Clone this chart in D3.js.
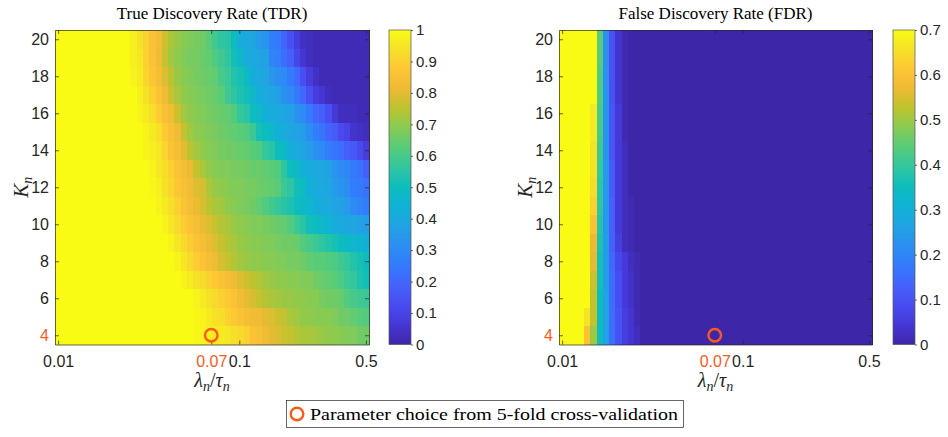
<!DOCTYPE html>
<html>
<head>
<meta charset="utf-8">
<script src="https://cdn.jsdelivr.net/npm/d3@7"></script>
<style>
  body { margin: 0; background: #fff; }
  svg { display: block; }
</style>
</head>
<body>
<svg id="chart" width="948" height="437"></svg>
<script>
// lambda_n / tau_n grid (columns) and K_n values (rows, top to bottom)
const lambdas = [0.01, 0.01083, 0.01173, 0.01271, 0.01376, 0.01491, 0.01615, 0.01749, 0.01894, 0.02052,
  0.02222, 0.02407, 0.02607, 0.02824, 0.03059, 0.03313, 0.03589, 0.03887, 0.04210, 0.04560,
  0.04940, 0.05350, 0.05795, 0.06277, 0.06799, 0.07365, 0.07977, 0.08640, 0.09359, 0.1014,
  0.1098, 0.1189, 0.1288, 0.1395, 0.1511, 0.1637, 0.1773, 0.1920, 0.2080, 0.2253,
  0.2441, 0.2644, 0.2863, 0.3102, 0.3360, 0.3639, 0.3942, 0.4270, 0.4625, 0.5];
const kRows = [20, 19, 18, 17, 16, 15, 14, 13, 12, 11, 10, 9, 8, 7, 6, 5, 4];

// true discovery rate, percent (rows follow kRows)
const tdr = [
  [100,100,100,100,100,100,100,100,100,100,100,100,97,94,90,86,83,77,73,71,69,68,67,66,63,59,56,55,50,41,40,39,35,33,26,25,19,14,8,4,3,2,2,2,2,2,2,2,2,2],
  [100,100,100,100,100,100,100,100,100,100,100,100,97,95,90,86,82,76,72,70,68,67,67,65,64,61,59,56,51,47,41,40,39,37,28,27,22,18,11,6,3,2,2,2,2,2,2,2,2,2],
  [100,100,100,100,100,100,100,100,100,100,100,100,98,96,91,87,84,79,75,71,69,68,67,66,65,64,60,58,54,52,48,42,40,38,34,31,30,25,21,13,8,4,2,2,2,2,2,2,2,2],
  [100,100,100,100,100,100,100,100,100,100,100,100,100,97,94,90,86,82,77,73,70,69,68,67,66,65,63,59,56,53,51,47,42,40,38,37,32,30,25,20,13,8,6,3,2,2,2,2,2,2],
  [100,100,100,100,100,100,100,100,100,100,100,100,100,98,96,93,89,85,83,77,72,70,69,68,67,66,65,64,62,57,55,50,48,43,41,40,39,37,32,30,25,20,18,13,7,3,3,3,2,2],
  [100,100,100,100,100,100,100,100,100,100,100,100,100,100,98,96,93,88,85,82,76,72,70,69,68,67,66,65,64,63,62,58,52,50,46,43,41,39,37,36,31,26,24,19,17,12,10,5,4,3],
  [100,100,100,100,100,100,100,100,100,100,100,100,100,100,98,97,95,91,86,84,80,75,72,70,69,68,67,66,66,65,64,63,62,57,55,50,48,42,40,38,36,32,30,26,24,22,18,16,12,8],
  [100,100,100,100,100,100,100,100,100,100,100,100,100,100,100,98,95,93,90,86,84,81,76,73,70,69,68,68,67,67,66,65,65,64,63,62,56,50,48,43,41,40,39,37,33,31,29,25,23,18],
  [100,100,100,100,100,100,100,100,100,100,100,100,100,100,100,99,97,94,91,87,85,83,79,78,73,71,70,69,68,68,67,67,66,65,64,63,58,56,51,49,43,41,40,39,35,33,31,26,25,23],
  [100,100,100,100,100,100,100,100,100,100,100,100,100,100,100,100,98,96,93,90,86,84,81,78,75,73,72,70,69,68,67,66,64,62,59,57,55,53,50,48,46,43,41,40,38,37,35,30,28,26],
  [100,100,100,100,100,100,100,100,100,100,100,100,100,100,100,100,100,98,95,92,89,86,84,81,79,76,74,73,71,70,69,68,68,67,66,65,64,62,58,55,51,49,47,45,42,40,39,38,37,36],
  [100,100,100,100,100,100,100,100,100,100,100,100,100,100,100,100,100,100,98,95,92,89,86,84,81,79,76,74,73,71,70,69,69,68,68,67,66,66,65,62,60,58,56,54,52,50,48,46,45,43],
  [100,100,100,100,100,100,100,100,100,100,100,100,100,100,100,100,100,100,100,98,95,92,89,86,84,82,78,76,74,72,71,70,70,69,69,68,68,67,67,66,64,63,63,62,61,59,57,54,52,50],
  [100,100,100,100,100,100,100,100,100,100,100,100,100,100,100,100,100,100,100,100,98,96,94,92,90,88,86,84,82,79,77,75,74,72,71,70,70,69,69,68,68,66,65,64,63,61,58,57,53,51],
  [100,100,100,100,100,100,100,100,100,100,100,100,100,100,100,100,100,100,100,100,100,100,98,96,94,92,90,88,86,83,80,78,76,74,73,72,71,71,70,70,69,69,67,66,66,65,62,60,59,58],
  [100,100,100,100,100,100,100,100,100,100,100,100,100,100,100,100,100,100,100,100,100,100,99,98,96,94,93,90,88,86,84,83,82,80,79,77,76,73,72,70,70,69,69,69,68,66,66,64,63,62],
  [100,100,100,100,100,100,100,100,100,100,100,100,100,100,100,100,100,100,100,100,100,100,99,98,97,96,96,95,93,92,90,86,85,82,80,79,77,76,74,73,73,72,71,70,70,69,68,68,66,66]
];

// false discovery rate, percent (colour saturates at 70)
const fdr = [
  [70,70,70,70,70,70,44,22,10,4,1,0,0,0,0,0,0,0,0,0,0,0,0,0,0,0,0,0,0,0,0,0,0,0,0,0,0,0,0,0,0,0,0,0,0,0,0,0,0,0],
  [70,70,70,70,70,70,44,22,10,4,1,0,0,0,0,0,0,0,0,0,0,0,0,0,0,0,0,0,0,0,0,0,0,0,0,0,0,0,0,0,0,0,0,0,0,0,0,0,0,0],
  [70,70,70,70,70,70,43,22,10,4,1,0,0,0,0,0,0,0,0,0,0,0,0,0,0,0,0,0,0,0,0,0,0,0,0,0,0,0,0,0,0,0,0,0,0,0,0,0,0,0],
  [70,70,70,70,70,70,43,23,10,4,1,0,0,0,0,0,0,0,0,0,0,0,0,0,0,0,0,0,0,0,0,0,0,0,0,0,0,0,0,0,0,0,0,0,0,0,0,0,0,0],
  [70,70,70,70,70,67,42,23,11,5,1,0,0,0,0,0,0,0,0,0,0,0,0,0,0,0,0,0,0,0,0,0,0,0,0,0,0,0,0,0,0,0,0,0,0,0,0,0,0,0],
  [70,70,70,70,70,67,42,23,11,5,1,0,0,0,0,0,0,0,0,0,0,0,0,0,0,0,0,0,0,0,0,0,0,0,0,0,0,0,0,0,0,0,0,0,0,0,0,0,0,0],
  [70,70,70,70,70,66,41,23,11,5,2,0,0,0,0,0,0,0,0,0,0,0,0,0,0,0,0,0,0,0,0,0,0,0,0,0,0,0,0,0,0,0,0,0,0,0,0,0,0,0],
  [70,70,70,70,70,66,40,24,12,5,2,0,0,0,0,0,0,0,0,0,0,0,0,0,0,0,0,0,0,0,0,0,0,0,0,0,0,0,0,0,0,0,0,0,0,0,0,0,0,0],
  [70,70,70,70,70,65,39,24,12,5,2,0,0,0,0,0,0,0,0,0,0,0,0,0,0,0,0,0,0,0,0,0,0,0,0,0,0,0,0,0,0,0,0,0,0,0,0,0,0,0],
  [70,70,70,70,70,63,39,24,13,5,2,1,0,0,0,0,0,0,0,0,0,0,0,0,0,0,0,0,0,0,0,0,0,0,0,0,0,0,0,0,0,0,0,0,0,0,0,0,0,0],
  [70,70,70,70,70,60,38,24,13,5,2,1,0,0,0,0,0,0,0,0,0,0,0,0,0,0,0,0,0,0,0,0,0,0,0,0,0,0,0,0,0,0,0,0,0,0,0,0,0,0],
  [70,70,70,70,70,57,37,25,13,6,2,1,0,0,0,0,0,0,0,0,0,0,0,0,0,0,0,0,0,0,0,0,0,0,0,0,0,0,0,0,0,0,0,0,0,0,0,0,0,0],
  [70,70,70,70,70,56,36,25,14,8,5,2,1,0,0,0,0,0,0,0,0,0,0,0,0,0,0,0,0,0,0,0,0,0,0,0,0,0,0,0,0,0,0,0,0,0,0,0,0,0],
  [70,70,70,70,70,54,36,25,15,9,5,3,1,0,0,0,0,0,0,0,0,0,0,0,0,0,0,0,0,0,0,0,0,0,0,0,0,0,0,0,0,0,0,0,0,0,0,0,0,0],
  [70,70,70,70,70,53,35,26,15,9,5,3,1,0,0,0,0,0,0,0,0,0,0,0,0,0,0,0,0,0,0,0,0,0,0,0,0,0,0,0,0,0,0,0,0,0,0,0,0,0],
  [70,70,70,70,66,53,35,26,15,10,6,4,1,0,0,0,0,0,0,0,0,0,0,0,0,0,0,0,0,0,0,0,0,0,0,0,0,0,0,0,0,0,0,0,0,0,0,0,0,0],
  [70,70,70,70,60,50,35,26,16,10,6,4,2,0,0,0,0,0,0,0,0,0,0,0,0,0,0,0,0,0,0,0,0,0,0,0,0,0,0,0,0,0,0,0,0,0,0,0,0,0]
];

const xTicks = [0.01, 0.07, 0.1, 0.5];
const yTicks = [4, 6, 8, 10, 12, 14, 16, 18, 20];
const tdrBarTicks = [0, 0.1, 0.2, 0.3, 0.4, 0.5, 0.6, 0.7, 0.8, 0.9, 1];
const fdrBarTicks = [0, 0.1, 0.2, 0.3, 0.4, 0.5, 0.6, 0.7];
const chosen = { lambda: 0.07, k: 4 };

// parula, every 16th entry of the 256 colour map
const parula = ["#3e26a8", "#4537d5", "#484cf0", "#4562fc", "#337afd", "#2c8ff1", "#21a3e3", "#10b2d5",
  "#0dbdbc", "#32c69f", "#57cc7a", "#88cb53", "#bec32d", "#efba35", "#fec735", "#f5e327", "#f9fb15"];
const parulaPos = parula.map((c, i) => i === parula.length - 1 ? 1 : i * 16 / 255);

const ink = "#262626";
const hi = "#fb5a1c";
const serif = "'Liberation Serif', 'DejaVu Serif', serif";
const sans = "'Liberation Sans', Arial, sans-serif";

const svg = d3.select("#chart");

// column edges, halfway between neighbouring grid points in log space
const logL = lambdas.map(Math.log10);
const n = lambdas.length;
const edges = d3.range(n + 1).map((i) => {
    const a = i === 0 ? 2 * logL[0] - logL[1] : logL[i - 1];
    const b = i === n ? 2 * logL[n - 1] - logL[n - 2] : logL[i];
    return Math.pow(10, (a + b) / 2);
});

const panels = [
    { title: "True Discovery Rate (TDR)", rows: tdr, max: 1, ticks: tdrBarTicks, x0: 55, x1: 369, bar: 389, id: "g0" },
    { title: "False Discovery Rate (FDR)", rows: fdr, max: 0.7, ticks: fdrBarTicks, x0: 559, x1: 872, bar: 893, id: "g1" }
];
const plotTop = 30, plotBottom = 344.5;

const defs = svg.append("defs");

panels.forEach((p) => {
    const x = d3.scaleLog().domain([edges[0], edges[n]]).range([p.x0, p.x1]);
    const y = d3.scaleLinear().domain([3.5, 20.5]).range([plotBottom, plotTop]);
    const color = d3.scaleLinear()
        .domain(parulaPos.map((t) => t * p.max))
        .range(parula)
        .clamp(true);

    const g = svg.append("g");

    // heatmap cells
    const cells = [];
    p.rows.forEach((row, r) => {
        row.forEach((v, c) => cells.push({ k: kRows[r], c: c, v: v / 100 }));
    });
    g.append("g")
        .attr("shape-rendering", "crispEdges")
        .selectAll("rect")
        .data(cells)
        .enter()
        .append("rect")
        .attr("x", (d) => x(edges[d.c]))
        .attr("width", (d) => x(edges[d.c + 1]) - x(edges[d.c]) + 0.5)
        .attr("y", (d) => y(d.k + 0.5))
        .attr("height", (d) => y(d.k - 0.5) - y(d.k + 0.5) + 0.5)
        .attr("fill", (d) => color(d.v));

    // axes, ticks pointing inwards on all four sides
    const axB = g.append("g").attr("transform", `translate(0,${plotBottom})`)
        .call(d3.axisBottom(x).tickValues(xTicks).tickFormat((d) => String(d)).tickSizeInner(-4).tickSizeOuter(0).tickPadding(11));
    g.append("g").attr("transform", `translate(0,${plotTop})`)
        .call(d3.axisTop(x).tickValues(xTicks).tickFormat("").tickSizeInner(-4).tickSizeOuter(0));
    const axL = g.append("g").attr("transform", `translate(${p.x0},0)`)
        .call(d3.axisLeft(y).tickValues(yTicks).tickSizeInner(-4).tickSizeOuter(0).tickPadding(6));
    g.append("g").attr("transform", `translate(${p.x1},0)`)
        .call(d3.axisRight(y).tickValues(yTicks).tickFormat("").tickSizeInner(-4).tickSizeOuter(0));

    g.selectAll(".domain").attr("stroke", ink).attr("stroke-width", 0.7);
    g.selectAll(".tick line").attr("stroke", ink).attr("stroke-width", 0.7);
    g.selectAll(".tick text")
        .attr("font-family", sans)
        .attr("font-size", 16)
        .attr("fill", ink);
    axB.selectAll(".tick text").filter((d) => d === chosen.lambda).attr("fill", hi);
    axL.selectAll(".tick text").filter((d) => d === chosen.k).attr("fill", hi);

    // chosen parameter
    g.append("circle")
        .attr("cx", x(chosen.lambda))
        .attr("cy", y(chosen.k))
        .attr("r", 6.3)
        .attr("fill", "none")
        .attr("stroke", hi)
        .attr("stroke-width", 2.4);

    // title and axis labels
    const cx = (p.x0 + p.x1) / 2;
    g.append("text")
        .attr("x", cx).attr("y", 19)
        .attr("text-anchor", "middle")
        .attr("font-family", serif)
        .attr("font-size", 17)
        .attr("fill", "#000")
        .text(p.title);

    const xl = g.append("text")
        .attr("x", cx).attr("y", 387)
        .attr("text-anchor", "middle")
        .attr("font-family", serif)
        .attr("font-size", 20)
        .attr("fill", ink);
    xl.append("tspan").attr("font-style", "italic").text("λ");
    xl.append("tspan").attr("font-style", "italic").attr("font-size", 14).attr("dy", 4).text("n");
    xl.append("tspan").attr("dy", -4).text("/");
    xl.append("tspan").attr("font-style", "italic").text("τ");
    xl.append("tspan").attr("font-style", "italic").attr("font-size", 14).attr("dy", 4).text("n");

    const yl = g.append("text")
        .attr("transform", `translate(${p.x0 - 27},${(plotTop + plotBottom) / 2}) rotate(-90)`)
        .attr("text-anchor", "middle")
        .attr("font-family", serif)
        .attr("font-size", 21)
        .attr("fill", ink);
    yl.append("tspan").attr("font-style", "italic").text("K");
    yl.append("tspan").attr("font-style", "italic").attr("font-size", 14).attr("dy", 4).text("n");

    // colour bar
    const grad = defs.append("linearGradient")
        .attr("id", p.id)
        .attr("x1", 0).attr("y1", 1).attr("x2", 0).attr("y2", 0);
    grad.selectAll("stop")
        .data(parula)
        .enter()
        .append("stop")
        .attr("offset", (d, i) => parulaPos[i])
        .attr("stop-color", (d) => d);

    const barW = 22;
    const cb = d3.scaleLinear().domain([0, p.max]).range([plotBottom, plotTop]);
    g.append("rect")
        .attr("x", p.bar).attr("y", plotTop)
        .attr("width", barW).attr("height", plotBottom - plotTop)
        .attr("fill", `url(#${p.id})`)
        .attr("stroke", "#555")
        .attr("stroke-width", 0.7);
    const axC = g.append("g").attr("transform", `translate(${p.bar + barW},0)`)
        .call(d3.axisRight(cb).tickValues(p.ticks).tickFormat((d) => String(+d.toFixed(1))).tickSizeInner(2).tickSizeOuter(0).tickPadding(3));
    axC.select(".domain").remove();
    axC.selectAll(".tick line").attr("stroke", ink).attr("stroke-width", 0.7);
    axC.selectAll(".tick text")
        .attr("font-family", sans)
        .attr("font-size", 15)
        .attr("fill", ink);
});

// legend
const lg = svg.append("g");
lg.append("rect")
    .attr("x", 286.5).attr("y", 400.5)
    .attr("width", 397).attr("height", 27)
    .attr("fill", "#fff")
    .attr("stroke", ink)
    .attr("stroke-width", 0.7);
lg.append("circle")
    .attr("cx", 297).attr("cy", 414)
    .attr("r", 6.3)
    .attr("fill", "none")
    .attr("stroke", hi)
    .attr("stroke-width", 2.4);
lg.append("text")
    .attr("x", 310).attr("y", 419.5)
    .attr("font-family", serif)
    .attr("font-size", 17)
    .attr("textLength", 368)
    .attr("lengthAdjust", "spacingAndGlyphs")
    .attr("fill", "#000")
    .text("Parameter choice from 5-fold cross-validation");
</script>
</body>
</html>
